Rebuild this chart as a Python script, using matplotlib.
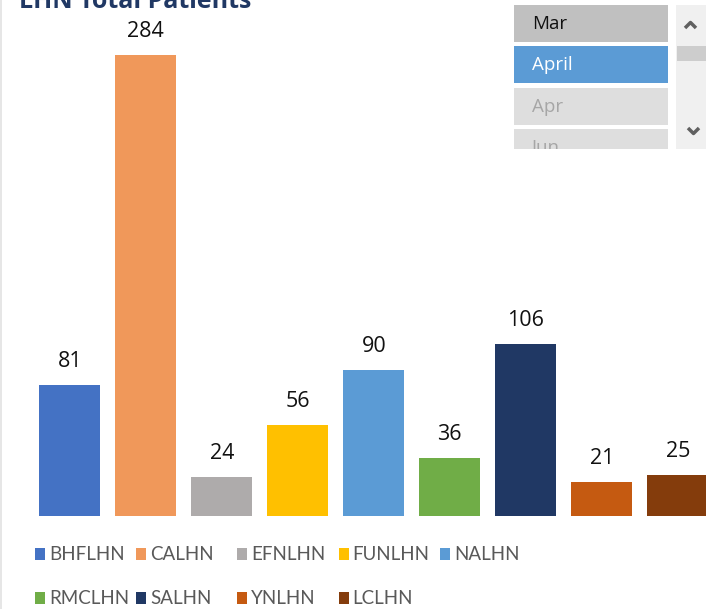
import matplotlib
matplotlib.use("Agg")
import matplotlib.pyplot as plt
from matplotlib.patches import Rectangle

# chart data
regions = ["BHFLHN", "CALHN", "EFNLHN", "FUNLHN", "NALHN",
           "RMCLHN", "SALHN", "YNLHN", "LCLHN"]
patients = [81, 284, 24, 56, 90, 36, 106, 21, 25]
colors = ["#4472C4", "#F0985A", "#AEABAB", "#FFC000", "#5B9BD5",
          "#70AD47", "#203864", "#C55A11", "#843C0C"]

# slicer items (month filter)
slicer_items = ["Mar", "April", "Apr", "Jun"]
slicer_state = ["on", "selected", "off", "off"]

title = "LHN Total Patients"

W, H = 706, 609
fig = plt.figure(figsize=(W / 100, H / 100), dpi=100)
fig.patch.set_facecolor("white")


def fx(px):
    return px / W


def fy(py):
    # pixel y measured from the top
    return 1 - py / H


# main bar axes (right end runs past the figure edge, like the source)
ax = fig.add_axes([fx(31.8), fy(516), (715.8 - 31.8) / W, 516 / H])
x = list(range(len(regions)))
bars = ax.bar(x, patients, width=0.8, color=colors)
ax.set_xlim(-0.5, len(regions) - 0.5)
ax.set_ylim(0, 318)
ax.axis("off")

for b, v in zip(bars, patients):
    ax.annotate(str(v), (b.get_x() + b.get_width() / 2, v),
                xytext=(0, 18), textcoords="offset pixels",
                ha="center", va="baseline", fontsize=15.5,
                family=["Open Sans", "DejaVu Sans"], color="#111111")

# title, mostly cut off at the top
fig.text(fx(19), fy(8), title, ha="left", va="baseline", fontsize=18,
         fontweight="bold", family=["Open Sans", "DejaVu Sans"], color="#203864")

# faint left border of the chart area
fig.add_artist(Rectangle((0, 0), fx(1.5), 1, transform=fig.transFigure,
                         color="#e6e6e6", lw=0))

# legend, two rows of five columns
for i, (name, c) in enumerate(zip(regions, colors)):
    row, col = divmod(i, 5)
    lx = 35 + col * 101.2
    ly = 554 + row * 44
    fig.add_artist(Rectangle((fx(lx), fy(ly + 6)), 10 / W, 12 / H,
                             transform=fig.transFigure, color=c, lw=0))
    fig.text(fx(lx + 14), fy(ly), name, ha="left", va="center",
             fontsize=13.5, family=["Liberation Sans Narrow", "Lato", "DejaVu Sans"],
             color="#595959")

# slicer panel, pixel coordinates
sax = fig.add_axes([fx(513), fy(149), (W - 513) / W, 144 / H])
sax.set_xlim(513, W)
sax.set_ylim(149, 5)
sax.axis("off")

fills = {"on": "#C0C0C0", "selected": "#5B9BD5", "off": "#DEDEDE"}
texts = {"on": "#111111", "selected": "white", "off": "#A6A6A6"}
tops = [5, 46, 88, 129]
for item, state, top in zip(slicer_items, slicer_state, tops):
    sax.add_patch(Rectangle((514, top), 154, 37, color=fills[state], lw=0))
    sax.text(532, top + 19, item, ha="left", va="center", fontsize=13.5,
             family=["Open Sans", "DejaVu Sans"], color=texts[state],
             clip_on=True)

# scrollbar
sax.add_patch(Rectangle((676, 5), 31, 144, color="#F0F0F0", lw=0))
sax.add_patch(Rectangle((677, 46), 29, 15, color="#CDCDCD", lw=0))
sax.plot([685, 690.5, 696], [28, 22.5, 28], color="#606060", lw=2.5,
         solid_capstyle="butt")
sax.plot([688, 693.5, 699], [128, 133.5, 128], color="#606060", lw=2.5,
         solid_capstyle="butt")

fig.savefig("out.png", dpi=100, facecolor="white")
